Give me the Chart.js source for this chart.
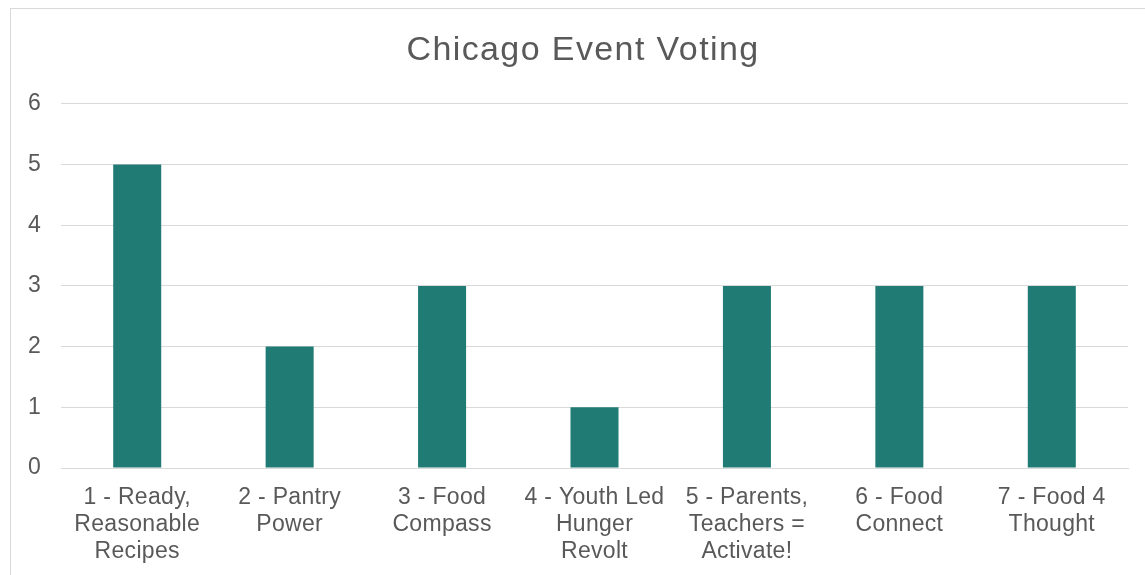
<!DOCTYPE html>
<html>
<head>
<meta charset="utf-8">
<script src="https://cdn.jsdelivr.net/npm/chart.js@4/dist/chart.umd.min.js"></script>
<style>
  html, body { margin: 0; padding: 0; background: #fff; overflow: hidden; }
  #frame { position: absolute; left: 10px; top: 8px; width: 1200px; height: 620px; border: 1px solid #d9d9d9; }
  #wrap { position: absolute; left: 0; top: 0; width: 1145px; height: 575px; }
</style>
</head>
<body>
<div id="frame"></div>
<div id="wrap"><canvas id="chart" width="1145" height="575"></canvas></div>
<script>
// Chart data
const categories = [
  ['1 - Ready,', 'Reasonable', 'Recipes'],
  ['2 - Pantry', 'Power'],
  ['3 - Food', 'Compass'],
  ['4 - Youth Led', 'Hunger', 'Revolt'],
  ['5 - Parents,', 'Teachers =', 'Activate!'],
  ['6 - Food', 'Connect'],
  ['7 - Food 4', 'Thought']
];
const votes = [5, 2, 3, 1, 3, 3, 3];
const yTicks = [0, 1, 2, 3, 4, 5, 6];

const textColor = '#595959';
const gridColor = '#d9d9d9';
const fontFamily = '"Liberation Sans", Arial, sans-serif';

// slightly wider letter spacing, closer to the original rendering
const spacingPlugin = {
  id: 'spacing',
  beforeDraw(chart) {
    chart.ctx.letterSpacing = '0.3px';
  }
};

const ctx = document.getElementById('chart').getContext('2d');
const chart = new Chart(ctx, {
  type: 'bar',
  data: {
    labels: categories,
    datasets: [{
      label: 'Votes',
      data: votes,
      backgroundColor: '#1f7b73',
      categoryPercentage: 1,
      barPercentage: 0.315,
      yAxisID: 'y'
    }]
  },
  plugins: [spacingPlugin],
  options: {
    responsive: false,
    animation: false,
    layout: { padding: { left: 21, right: 0, top: 0, bottom: 0 } },
    plugins: {
      legend: { display: false },
      tooltip: { enabled: false },
      title: {
        display: true,
        text: 'Chicago Event Voting',
        color: textColor,
        font: { family: fontFamily, size: 34, weight: 'normal', lineHeight: 1.2 },
        padding: { top: 30, bottom: 33 }
      }
    },
    scales: {
      x: {
        grid: { display: false, drawTicks: false },
        border: { display: true, color: gridColor, width: 1 },
        ticks: {
          color: textColor,
          font: { family: fontFamily, size: 23, lineHeight: 1.174 },
          padding: 16,
          maxRotation: 0,
          autoSkip: false
        },
        afterFit: (scale) => { scale.height = 107; }
      },
      y: {
        min: 0,
        max: 6,
        afterBuildTicks: (scale) => { scale.ticks = yTicks.map(v => ({ value: v })); },
        grid: { color: gridColor, lineWidth: 1, drawTicks: false },
        border: { display: false },
        ticks: {
          color: textColor,
          font: { family: fontFamily, size: 23 },
          padding: 20
        },
        afterFit: (scale) => { scale.width = 40; }
      },
      // empty right axis, only keeps a margin on the right
      yRight: {
        position: 'right',
        display: true,
        grid: { display: false, drawTicks: false },
        border: { display: false },
        ticks: { display: false },
        afterFit: (scale) => { scale.width = 17; }
      }
    }
  }
});

// the title gets its own, wider spacing
const drawTitle = chart.titleBlock.draw.bind(chart.titleBlock);
chart.titleBlock.draw = function () {
  chart.ctx.save();
  chart.ctx.letterSpacing = '1.4px';
  drawTitle();
  chart.ctx.restore();
};
chart.draw();
</script>
</body>
</html>
